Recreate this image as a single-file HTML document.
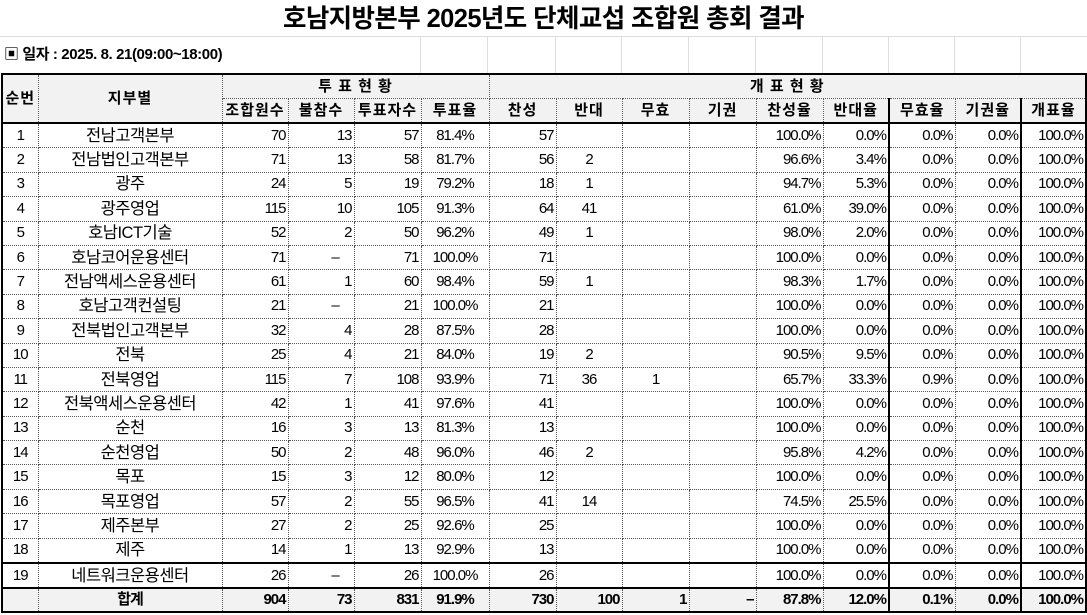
<!DOCTYPE html>
<html><head><meta charset="utf-8"><style>
body{margin:0;width:1087px;height:615px;background:#fff;overflow:hidden;font-family:"Liberation Sans","Noto Sans CJK KR",sans-serif;position:relative}
.title{position:absolute;left:0;top:0;width:1087px;height:36px;text-align:center;font-size:25.5px;font-weight:bold;line-height:38px;letter-spacing:-0.6px;border-bottom:1px solid #ddd}
.date{position:absolute;left:4px;top:43px;font-size:15px;font-weight:bold;letter-spacing:-0.4px}
.gl{position:absolute;top:36px;height:37px;border-left:1px solid #ddd}
table{position:absolute;left:1px;top:73px;border-collapse:collapse;table-layout:fixed;border:2px solid #000}
td{border:1px dotted #555;padding:0 2px;font-size:15px;line-height:18px;white-space:nowrap;overflow:hidden;letter-spacing:-1px}
tr.h td{background:#f2f2f2;text-align:center;font-weight:bold;height:23px;font-size:15px;letter-spacing:1px}
tr.d td{height:23.4px;text-align:right}
td.c{text-align:center!important}
td.n{font-size:16.5px;letter-spacing:-0.5px}
tr.hb td{border-bottom:2px solid #000}
tr.t td{background:#f2f2f2;font-weight:bold;height:22px;border-top:2px solid #000;text-align:right}
.tk{border-left:2px solid #000!important}
</style></head><body>
<div class="title">호남지방본부 2025년도 단체교섭 조합원 총회 결과</div>
<div class="date">▣ 일자 : 2025. 8. 21(09:00~18:00)</div>
<div class="gl" style="left:420px"></div><div class="gl" style="left:487px"></div><div class="gl" style="left:555px"></div><div class="gl" style="left:621px"></div><div class="gl" style="left:688px"></div><div class="gl" style="left:755px"></div><div class="gl" style="left:822px"></div><div class="gl" style="left:888px"></div><div class="gl" style="left:954px"></div><div class="gl" style="left:1020px"></div>
<table>
<colgroup><col style="width:36px"><col style="width:184px"><col style="width:66px"><col style="width:66px"><col style="width:67px"><col style="width:68px"><col style="width:67px"><col style="width:66px"><col style="width:67px"><col style="width:67px"><col style="width:67px"><col style="width:66px"><col style="width:66px"><col style="width:66px"><col style="width:65px"></colgroup>
<tr class="h"><td rowspan="2" style="border-bottom:2px solid #000">순번</td><td rowspan="2" style="border-bottom:2px solid #000">지부별</td><td colspan="4">투 표 현 황</td><td colspan="9">개 표 현 황</td></tr>
<tr class="h hb"><td>조합원수</td><td>불참수</td><td>투표자수</td><td>투표율</td><td>찬성</td><td>반대</td><td>무효</td><td>기권</td><td>찬성율</td><td>반대율</td><td class="tk">무효율</td><td>기권율</td><td class="tk">개표율</td></tr>
<tbody id="b"></tbody>
<tr class="t"><td></td><td class="c">합계</td><td>904</td><td>73</td><td>831</td><td class="c">91.9%</td><td>730</td><td>100</td><td>1</td><td>–</td><td>87.8%</td><td>12.0%</td><td class="tk">0.1%</td><td>0.0%</td><td class="tk">100.0%</td></tr>
</table>
<script>
var d=[["전남고객본부",70,13,57,"81.4%",57,"","",""],["전남법인고객본부",71,13,58,"81.7%",56,2,"",""],["광주",24,5,19,"79.2%",18,1,"",""],["광주영업",115,10,105,"91.3%",64,41,"",""],["호남ICT기술",52,2,50,"96.2%",49,1,"",""],["호남코어운용센터",71,"–",71,"100.0%",71,"","",""],["전남액세스운용센터",61,1,60,"98.4%",59,1,"",""],["호남고객컨설팅",21,"–",21,"100.0%",21,"","",""],["전북법인고객본부",32,4,28,"87.5%",28,"","",""],["전북",25,4,21,"84.0%",19,2,"",""],["전북영업",115,7,108,"93.9%",71,36,1,""],["전북액세스운용센터",42,1,41,"97.6%",41,"","",""],["순천",16,3,13,"81.3%",13,"","",""],["순천영업",50,2,48,"96.0%",46,2,"",""],["목포",15,3,12,"80.0%",12,"","",""],["목포영업",57,2,55,"96.5%",41,14,"",""],["제주본부",27,2,25,"92.6%",25,"","",""],["제주",14,1,13,"92.9%",13,"","",""],["네트워크운용센터",26,"–",26,"100.0%",26,"","",""]];
var h="";
d.forEach(function(r,i){var p=r[5],n=r[6]||0,m=r[7]||0,v=r[3];
function f(x){return (x*100/v).toFixed(1)+"%"}
h+='<tr class="d"'+(i==18?' style="border-top:2px solid #000"':'')+'><td class="c">'+(i+1)+'</td><td class="c n">'+r[0]+'</td><td>'+r[1]+'</td><td'+(r[2]=="–"?' class="c" style="padding-left:30px"':'')+'>'+r[2]+'</td><td>'+r[3]+'</td><td class="c">'+r[4]+'</td><td>'+r[5]+'</td><td class="c">'+r[6]+'</td><td class="c">'+r[7]+'</td><td></td><td>'+f(p)+'</td><td>'+f(n)+'</td><td class="tk">'+f(m)+'</td><td>0.0%</td><td class="tk">100.0%</td></tr>';});
document.getElementById("b").innerHTML=h;
</script>
</body></html>
